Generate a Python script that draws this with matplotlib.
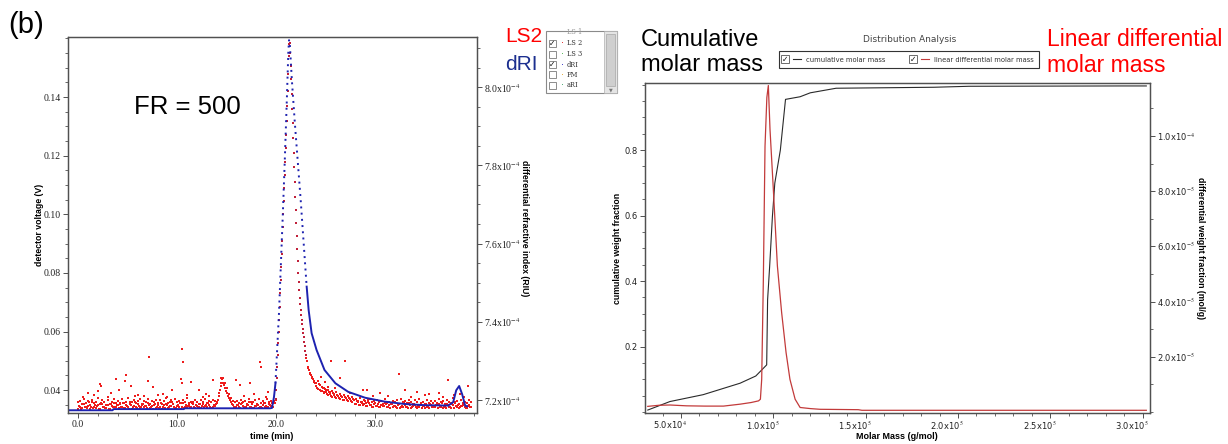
import numpy as np
import matplotlib
matplotlib.use('Agg')
import matplotlib.pyplot as plt
from matplotlib.patches import Rectangle
from matplotlib.ticker import FixedLocator, MultipleLocator, FixedFormatter
import matplotlib.transforms as mtransforms

plt.rcParams['mathtext.fontset'] = 'stix'
W, H = 1228, 444

# ---------------- left panel data ----------------
# LS2 detector voltage (mV), sampled every 0.2 min, three interleaved sets
ls2_t_a = np.round(np.arange(0.0, 39.61, 0.2), 2)
ls2_mv_a = [
    33.4, 34.2, 33.8, 35.3, 34.1, 34.6, 33.5, 35.8, 34.4, 34.0, 34.9, 33.7, 35.2, 34.3, 33.9, 35.1, 33.6, 34.5, 35.5, 34.1,
    34.8, 33.8, 34.2, 35.6, 34.0, 34.7, 33.5, 35.0, 34.3, 36.1, 33.9, 34.5, 34.1, 35.4, 34.6, 33.8, 34.9, 34.2, 33.7, 35.2,
    34.4, 34.0, 35.7, 34.2, 33.8, 35.0, 34.1, 34.5, 35.3, 33.9, 34.7, 34.2, 33.6, 35.5, 34.4, 34.1, 34.8, 34.3, 36.0, 34.0,
    34.6, 34.2, 33.9, 35.2, 34.5, 34.1, 35.0, 35.8, 34.3, 34.7, 35.6, 38.0, 41.5, 43.8, 41.9, 39.8, 38.1, 36.5, 35.2, 34.4,
    34.2, 34.8, 33.9, 35.5, 34.4, 34.1, 34.9, 34.3, 35.2, 34.0, 34.6, 35.1, 34.2, 33.8, 35.6, 34.5, 34.2, 35.0, 34.4, 35.7,
    36.5, 52.0, 68.5, 86.5, 104.5, 122.5, 142.0, 158.5, 141.0, 121.0, 101.5, 84.0, 71.5, 64.0, 58.0, 52.0, 48.0, 46.0, 44.5, 43.2,
    41.5, 43.0, 40.2, 41.0, 39.3, 40.4, 38.6, 39.5, 38.0, 39.0, 37.6, 38.5, 37.2, 38.1, 36.8, 37.7, 36.5, 37.4, 36.2, 37.0,
    35.4, 36.2, 35.0, 35.8, 34.8, 36.2, 34.6, 35.5, 34.9, 34.3, 35.7, 34.7, 34.2, 35.1, 34.5, 35.6, 34.1, 34.8, 35.2, 34.3,
    34.6, 33.9, 35.3, 34.4, 34.1, 34.9, 34.2, 35.7, 33.8, 34.5, 35.0, 34.0, 34.3, 35.4, 34.6, 33.9, 34.8, 34.2, 35.2, 34.1,
    34.5, 35.0, 33.8, 34.3, 35.6, 34.2, 34.0, 34.8, 34.4, 35.3, 33.9, 34.6, 35.1, 34.1, 34.5, 35.2, 33.8, 34.7, 34.3,
]
ls2_t_b = np.round(np.arange(0.1, 39.71, 0.2), 2)
ls2_mv_b = [
    34.7, 33.6, 35.2, 34.3, 33.9, 36.0, 34.4, 33.8, 35.1, 34.5, 33.7, 35.6, 34.2, 34.0, 34.8, 33.5, 35.4, 34.3, 34.1, 34.9,
    33.8, 35.7, 34.4, 34.0, 35.1, 34.2, 35.9, 33.7, 34.6, 34.3, 35.2, 33.9, 34.8, 34.1, 34.5, 35.5, 34.0, 34.7, 35.1, 33.8,
    35.1, 34.3, 33.7, 34.8, 35.4, 34.0, 34.6, 35.9, 34.2, 33.8, 35.0, 35.6, 34.4, 33.9, 35.1, 34.5, 34.1, 35.7, 34.3, 34.8,
    34.0, 35.3, 34.5, 34.1, 34.9, 35.6, 34.2, 33.9, 35.1, 35.4, 36.8, 40.0, 44.2, 42.6, 40.8, 39.0, 37.4, 36.0, 35.0, 34.3,
    34.9, 34.1, 35.2, 34.5, 33.8, 35.0, 35.8, 34.2, 34.0, 34.7, 35.3, 33.9, 34.4, 35.1, 34.3, 34.0, 35.4, 34.6, 34.2, 35.5,
    44.0, 60.0, 77.5, 95.5, 113.5, 132.0, 154.0, 150.5, 131.0, 111.0, 92.5, 77.0, 67.5, 61.0, 55.0, 50.0, 47.0, 45.2, 43.8, 42.5,
    40.8, 42.2, 39.6, 40.7, 38.9, 39.9, 38.3, 39.2, 37.7, 38.6, 37.3, 38.0, 36.9, 37.6, 36.6, 37.3, 36.3, 37.0, 35.9, 36.6,
    35.2, 35.9, 34.8, 35.6, 35.3, 34.5, 35.9, 34.8, 34.3, 35.2, 34.6, 35.4, 34.1, 34.9, 34.5, 35.2, 34.3, 34.0, 35.3, 34.6,
    34.2, 35.0, 33.8, 34.7, 35.5, 34.3, 34.0, 34.9, 34.4, 35.2, 34.1, 34.6, 35.0, 33.8, 34.5, 35.3, 34.2, 34.0, 34.8, 34.4,
    34.1, 34.8, 35.4, 34.2, 33.9, 34.7, 35.2, 34.3, 34.0, 34.9, 35.5, 34.2, 33.8, 34.6, 35.1, 34.4, 34.0, 34.8, 34.2,
]
ls2_t_c = np.round(np.arange(0.05, 39.66, 0.2), 2)
ls2_mv_c = [
    35.8, 36.4, 35.2, 37.0, 35.6, 36.2, 35.0, 36.8, 35.5, 36.0, 37.3, 35.3, 36.5, 35.9, 35.1, 36.7, 35.4, 36.1, 37.1, 35.7,
    36.3, 35.2, 36.9, 35.6, 36.1, 37.4, 35.3, 36.0, 36.6, 35.5, 36.2, 37.0, 35.4, 36.4, 35.8, 36.9, 35.2, 36.3, 35.9, 36.6,
    35.6, 36.8, 35.3, 36.2, 37.2, 35.7, 36.0, 36.5, 35.4, 37.1, 35.9, 36.3, 35.5, 36.7, 35.8, 37.4, 35.6, 36.1, 35.3, 36.5,
    36.0, 35.4, 36.6, 35.8, 37.0, 35.5, 36.3, 35.9, 36.8, 36.2, 36.0, 39.0, 42.4, 44.0, 42.5, 40.6, 38.8, 37.2, 36.4, 35.8,
    36.2, 35.5, 36.8, 35.9, 36.4, 35.3, 37.1, 35.8, 36.0, 36.6, 35.4, 36.9, 35.7, 36.3, 35.5, 37.0, 35.9, 36.2, 35.6, 36.4,
    40.0, 56.0, 73.0, 91.0, 109.0, 127.0, 148.0, 155.0, 136.0, 116.0, 97.0, 80.0, 69.5, 62.5, 56.5, 51.0, 47.5, 45.5, 44.0, 42.8,
    42.5, 40.5, 41.6, 39.8, 40.9, 39.2, 40.0, 38.8, 39.6, 38.3, 39.2, 37.9, 38.7, 37.5, 38.3, 37.2, 37.9, 36.9, 37.6, 36.7,
    37.0, 36.3, 37.4, 36.0, 36.8, 35.7, 36.5, 37.1, 35.8, 36.3, 35.5, 36.7, 35.9, 36.2, 35.4, 36.9, 35.7, 36.1, 35.5, 36.4,
    35.9, 36.5, 35.4, 37.0, 35.8, 36.2, 35.5, 36.7, 36.0, 35.3, 36.6, 35.8, 37.1, 35.6, 36.1, 35.4, 36.8, 35.7, 36.3, 35.6,
    36.2, 35.5, 36.9, 35.8, 36.4, 35.3, 36.7, 36.0, 35.6, 37.2, 35.9, 36.3, 35.4, 36.8, 35.7, 36.1, 35.5, 36.6, 35.9,
]
# LS2 peak, finer sampling (every 0.05 min from 20.0 to 23.0)
ls2_peak_t = np.round(np.arange(20.0, 23.001, 0.05), 2)
ls2_peak_mv = [
    37, 40, 44, 48, 52, 56, 60, 64, 68.5, 73, 77.5, 82, 86.5, 91, 95.5, 100, 104.5, 109, 113.5, 118,
    122.5, 127, 132, 137, 142, 148, 154, 158, 158.5, 155, 150.5, 146, 141, 136, 131, 126, 121, 116, 111, 106,
    101.5, 97, 92.5, 88, 84, 80, 77, 74, 71.5, 69.5, 67.5, 65.5, 64, 62.5, 61, 59.5, 58, 56.5, 55, 53.5, 52,
]
# isolated LS2 points above the band
ls2_out_t = [1.0, 2.0, 2.2, 2.3, 3.3, 3.8, 4.2, 4.8, 4.9, 5.4, 6.1, 7.1, 7.2, 7.6, 8.6, 9.5, 10.4, 10.5,
             10.6, 10.55, 11.4, 12.2, 12.9, 13.6, 16.0, 16.4, 17.4, 18.4, 18.5, 19.2, 25.6, 26.5, 27.0,
             28.8, 29.2, 30.5, 32.4, 33.0, 34.2, 35.5, 36.5, 37.4, 38.0, 39.4,
             0.5, 1.6, 3.0, 5.8, 6.7, 8.1, 9.0, 11.0, 12.6, 13.2, 16.8, 17.8, 19.0, 24.5, 25.0, 25.3,
             26.0, 27.5, 29.8, 31.3, 33.6, 35.0, 36.9, 38.6, 39.0]
ls2_out_mv = [38.9, 39.8, 42.0, 41.5, 39.0, 43.7, 40.0, 43.0, 45.1, 41.4, 38.5, 43.2, 51.3, 41.0, 38.8, 40.0, 43.7, 53.9,
              49.7, 42.4, 42.8, 40.0, 38.6, 43.4, 43.4, 41.7, 42.3, 49.7, 48.0, 39.5, 49.9, 44.0, 50.0,
              40.0, 40.0, 39.0, 45.5, 40.0, 39.2, 38.8, 39.0, 43.4, 38.5, 41.4,
              37.8, 38.2, 37.6, 38.0, 37.9, 38.3, 37.5, 38.4, 37.8, 38.1, 37.9, 38.6, 37.7, 44.6, 42.8, 41.2,
              40.6, 39.1, 38.0, 37.9, 37.7, 38.2, 37.6, 38.7, 37.8]

# dRI (x1e-4 RIU)
dri_t = [-0.8, 3.5, 3.6, 10.7, 10.8, 19.4, 19.6, 19.8, 19.95, 20.05, 20.15, 20.3, 20.5, 20.7, 20.9,
         21.1, 21.25, 21.32, 21.4, 21.6, 21.9, 22.2, 22.5, 22.8, 23.1, 23.3, 23.6, 24.1, 24.9, 26.0,
         27.3, 29.0, 31.0, 33.0, 35.0, 37.4, 37.9, 38.2, 38.5, 38.8, 39.1, 39.3]
dri_v = [7.174, 7.174, 7.177, 7.177, 7.179, 7.179, 7.180, 7.208, 7.243, 7.294, 7.345, 7.42, 7.55, 7.68, 7.82,
         7.97, 8.09, 8.12, 8.11, 8.02, 7.91, 7.81, 7.71, 7.60, 7.49, 7.43, 7.371, 7.328, 7.277, 7.243,
         7.221, 7.206, 7.196, 7.19, 7.187, 7.186, 7.195, 7.225, 7.236, 7.215, 7.186, 7.184]

left_xticks = [0, 10, 20, 30]
left_xlabels = ['0.0', '10.0', '20.0', '30.0']
left_yticks = [0.04, 0.06, 0.08, 0.10, 0.12, 0.14]
left_ylabels = ['0.04', '0.06', '0.08', '0.10', '0.12', '0.14']
dri_ticks = [7.2e-4, 7.4e-4, 7.6e-4, 7.8e-4, 8.0e-4]
dri_labels = ['7.2x10$^{-4}$', '7.4x10$^{-4}$', '7.6x10$^{-4}$', '7.8x10$^{-4}$', '8.0x10$^{-4}$']

# ---------------- right panel data ----------------
cum_M = [3.2e4, 4.4e4, 6.2e4, 8.2e4, 9.05e4, 9.38e4, 9.64e4, 9.69e4, 9.8e4, 9.95e4, 1.008e5, 1.038e5,
         1.066e5, 1.145e5, 1.2e5, 1.34e5, 1.87e5, 2.06e5, 2.89e5, 3.02e5]
cum_frac = [0.006, 0.032, 0.053, 0.088, 0.110, 0.129, 0.144, 0.343, 0.444, 0.597, 0.699, 0.800,
            0.955, 0.963, 0.975, 0.989, 0.992, 0.995, 0.996, 0.996]
diff_M = [3.2e4, 3.8e4, 4.4e4, 5.3e4, 6.3e4, 7.3e4, 8.2e4, 8.8e4, 9.2e4, 9.3e4, 9.37e4, 9.46e4, 9.55e4,
          9.65e4, 9.73e4, 9.82e4, 1.0e5, 1.022e5, 1.045e5, 1.069e5, 1.09e5, 1.118e5, 1.145e5, 1.2e5,
          1.253e5, 1.32e5, 1.46e5, 1.48e5, 2.0e5, 2.5e5, 3.02e5]
diff_w = [0.20, 0.24, 0.25, 0.22, 0.21, 0.21, 0.28, 0.34, 0.40, 0.46, 1.18, 4.8, 9.63,
          11.4, 11.83, 10.24, 8.07, 5.29, 3.6, 2.15, 1.18, 0.46, 0.16, 0.12,
          0.094, 0.09, 0.08, 0.058, 0.058, 0.058, 0.058]  # x1e-5 mol/g

mm_ticks = [5e4, 1e5, 1.5e5, 2e5, 2.5e5, 3e5]
mm_labels = ['5.0x10$^{4}$', '1.0x10$^{5}$', '1.5x10$^{5}$', '2.0x10$^{5}$', '2.5x10$^{5}$', '3.0x10$^{5}$']
cum_ticks = [0.2, 0.4, 0.6, 0.8]
cum_labels = ['0.2', '0.4', '0.6', '0.8']
dw_ticks = [2e-5, 4e-5, 6e-5, 8e-5, 1e-4]
dw_labels = ['2.0x10$^{-5}$', '4.0x10$^{-5}$', '6.0x10$^{-5}$', '8.0x10$^{-5}$', '1.0x10$^{-4}$']

RED = '#ee1c1c'
BLUE = '#1d22b0'
SPINE = '#505050'


def fx(x):
    return x / W


def fy(y):
    return 1 - y / H


def style_axis(ax, serif):
    for s in ax.spines.values():
        s.set_color(SPINE)
        s.set_linewidth(0.9)
    fam = 'Liberation Serif' if serif else 'DejaVu Sans'
    size = 7 if serif else 6
    ax.tick_params(which='major', direction='out', length=3.5, width=0.7, color=SPINE,
                   labelsize=size, labelcolor='#222222', pad=1.5, labelfontfamily=fam)
    ax.tick_params(which='minor', direction='out', length=2, width=0.6, color=SPINE)


fig = plt.figure(figsize=(W / 100, H / 100), dpi=100)

# ---------------- left panel ----------------
ax1 = fig.add_axes([fx(68), fy(413), fx(409), 376 / H])
for tt, mv in [(ls2_t_a, ls2_mv_a), (ls2_t_b, ls2_mv_b), (ls2_t_c, ls2_mv_c), (ls2_out_t, ls2_out_mv)]:
    ax1.plot(tt, np.array(mv) / 1000, 's', ms=1.9, mew=0, color=RED)
ax1.plot(ls2_peak_t, np.array(ls2_peak_mv) / 1000, 's', ms=1.6, mew=0, color='#c0203a')
ax1.set_xlim(-1.0, 40.3)
ax1.set_ylim(0.0322, 0.1605)
ax1.xaxis.set_major_locator(FixedLocator(left_xticks))
ax1.xaxis.set_major_formatter(FixedFormatter(left_xlabels))
ax1.xaxis.set_minor_locator(MultipleLocator(2))
ax1.yaxis.set_major_locator(FixedLocator(left_yticks))
ax1.yaxis.set_major_formatter(FixedFormatter(left_ylabels))
ax1.yaxis.set_minor_locator(MultipleLocator(0.005))
style_axis(ax1, True)

ax1b = ax1.twinx()
dt = np.array(dri_t)
dv = np.array(dri_v) * 1e-4
steep = (dt >= 19.95) & (dt <= 23.1)
ax1b.plot(dt[dt <= 19.95], dv[dt <= 19.95], color=BLUE, lw=1.4)
ax1b.plot(dt[dt >= 23.1], dv[dt >= 23.1], color=BLUE, lw=1.4)
ax1b.plot(dt[steep], dv[steep], color=BLUE, lw=1.4, ls=(0, (1, 2.2)))
ax1b.set_ylim(7.167e-4, 8.128e-4)
ax1b.yaxis.set_major_locator(FixedLocator(dri_ticks))
ax1b.yaxis.set_major_formatter(FixedFormatter(dri_labels))
ax1b.yaxis.set_minor_locator(MultipleLocator(0.05e-4))
style_axis(ax1b, True)

fig.text(fx(40), fy(225), 'detector voltage (V)', rotation=90, ha='center', va='center',
         fontsize=6.3, fontweight='bold', family='Liberation Sans')
fig.text(fx(272), fy(436), 'time (min)', ha='center', va='center',
         fontsize=6.5, fontweight='bold', family='Liberation Sans')
fig.text(fx(524), fy(228), 'differential refractive index (RIU)', rotation=270, ha='center',
         va='center', fontsize=6.3, fontweight='bold', family='Liberation Sans')

fig.text(fx(8), fy(25), '(b)', ha='left', va='center', fontsize=21, family='Liberation Sans')
fig.text(fx(134), fy(107), 'FR = 500', ha='left', va='center', fontsize=18.5, family='Liberation Sans')
fig.text(fx(505), fy(37), 'LS2', ha='left', va='center', fontsize=15, color='#ff0000',
         family='Liberation Sans')
fig.text(fx(505), fy(65), 'dRI', ha='left', va='center', fontsize=15, color='#1c2f8f',
         family='Liberation Sans')

# channel selector box
fig.add_artist(Rectangle((fx(546), fy(93)), fx(71), 62 / H, transform=fig.transFigure,
                         facecolor='white', edgecolor='#8a8a8a', lw=0.8))
fig.add_artist(Rectangle((fx(604), fy(93)), fx(13), 62 / H, transform=fig.transFigure,
                         facecolor='#e4e4e4', edgecolor='#b0b0b0', lw=0.5))
fig.add_artist(Rectangle((fx(605.5), fy(86)), fx(10), 52 / H, transform=fig.transFigure,
                         facecolor='#cfcfcf', edgecolor='#a8a8a8', lw=0.5))
fig.text(fx(610.5), fy(90), '\u25bc', ha='center', va='center', fontsize=3.5, color='#777777')
sel_names = ['LS 2', 'LS 3', 'dRI', 'FM', 'aRI']
sel_rows = [43.3, 54.3, 64.7, 75.0, 85.3]
sel_checked = [True, False, True, False, False]
sel_colors = ['#e01010', '#40b040', '#2020c0', '#e0a020', '#30a060']
for name, yy, chk, col in zip(sel_names, sel_rows, sel_checked, sel_colors):
    fig.add_artist(Rectangle((fx(548.5), fy(yy + 3.5)), fx(7), 7 / H, transform=fig.transFigure,
                             facecolor='white', edgecolor='#7a7a7a', lw=0.6))
    if chk:
        fig.text(fx(552), fy(yy), '\u2713', ha='center', va='center', fontsize=5.5,
                 color='#111111', family='DejaVu Sans')
    fig.text(fx(562), fy(yy), '\u00b7', ha='center', va='center', fontsize=7, color=col)
    fig.text(fx(567), fy(yy), name, ha='left', va='center', fontsize=4.8, color='#333333',
             family='DejaVu Serif')
fig.text(fx(567), fy(31.5), 'LS 1', ha='left', va='center', fontsize=4.8, color='#999999',
         family='DejaVu Serif')

# ---------------- right panel ----------------
ax2 = fig.add_axes([fx(645), fy(413), fx(505), 330 / H])
ax2.plot(cum_M, cum_frac, color='#2a2a2a', lw=0.8)
ax2.set_xlim(3.05e4, 3.04e5)
ax2.set_ylim(-0.003, 1.005)
ax2.xaxis.set_major_locator(FixedLocator(mm_ticks))
ax2.xaxis.set_major_formatter(FixedFormatter(mm_labels))
ax2.xaxis.set_minor_locator(MultipleLocator(1e4))
ax2.yaxis.set_major_locator(FixedLocator(cum_ticks))
ax2.yaxis.set_major_formatter(FixedFormatter(cum_labels))
ax2.yaxis.set_minor_locator(MultipleLocator(0.05))
style_axis(ax2, False)

ax2b = ax2.twinx()
ax2b.plot(diff_M, np.array(diff_w) * 1e-5, color='#c23a3a', lw=0.9)
ax2b.set_ylim(-4e-7, 1.192e-4)
ax2b.yaxis.set_major_locator(FixedLocator(dw_ticks))
ax2b.yaxis.set_major_formatter(FixedFormatter(dw_labels))
ax2b.yaxis.set_minor_locator(MultipleLocator(1e-5))
style_axis(ax2b, False)

shift = mtransforms.ScaledTranslation(6 / 100, 0, fig.dpi_scale_trans)
for lab in ax2.get_xticklabels():
    lab.set_horizontalalignment('right')
    lab.set_transform(lab.get_transform() + shift)

fig.text(fx(618), fy(248), 'cumulative weight fraction', rotation=90, ha='center', va='center',
         fontsize=6.3, fontweight='bold', family='Liberation Sans')
fig.text(fx(897), fy(436), 'Molar Mass (g/mol)', ha='center', va='center',
         fontsize=6.5, fontweight='bold', family='Liberation Sans')
fig.text(fx(1200), fy(248), 'differential weight fraction (mol/g)', rotation=270, ha='center',
         va='center', fontsize=6.3, fontweight='bold', family='Liberation Sans')

fig.text(fx(641), fy(39.5), 'Cumulative', ha='left', va='center', fontsize=17, family='Liberation Sans')
fig.text(fx(641), fy(65), 'molar mass', ha='left', va='center', fontsize=17, family='Liberation Sans')
fig.text(fx(1047), fy(39.5), 'Linear differential', ha='left', va='center', fontsize=16.5,
         color='#ff0000', family='Liberation Sans')
fig.text(fx(1047), fy(65), 'molar mass', ha='left', va='center', fontsize=16.5,
         color='#ff0000', family='Liberation Sans')
fig.text(fx(910), fy(39), 'Distribution Analysis', ha='center', va='center', fontsize=6.5,
         color='#444444', family='DejaVu Sans')

# series legend box
fig.add_artist(Rectangle((fx(779), fy(68)), fx(260), 17 / H, transform=fig.transFigure,
                         facecolor='white', edgecolor='#333333', lw=0.8))
leg_items = [('cumulative molar mass', '#2a2a2a', 781), ('linear differential molar mass', '#c23a3a', 909)]
for name, col, x0 in leg_items:
    fig.add_artist(Rectangle((fx(x0), fy(63.5)), fx(8), 8 / H, transform=fig.transFigure,
                             facecolor='white', edgecolor='#555555', lw=0.6))
    fig.text(fx(x0 + 4), fy(59.5), '\u2713', ha='center', va='center', fontsize=5.5,
             color='#111111', family='DejaVu Sans')
    fig.add_artist(plt.Line2D([fx(x0 + 12), fx(x0 + 20)], [fy(59.5), fy(59.5)],
                              transform=fig.transFigure, color=col, lw=0.8))
    fig.text(fx(x0 + 25), fy(59.5), name, ha='left', va='center', fontsize=4.9,
             color='#333333', family='DejaVu Sans')

fig.savefig('out.png', dpi=100)
